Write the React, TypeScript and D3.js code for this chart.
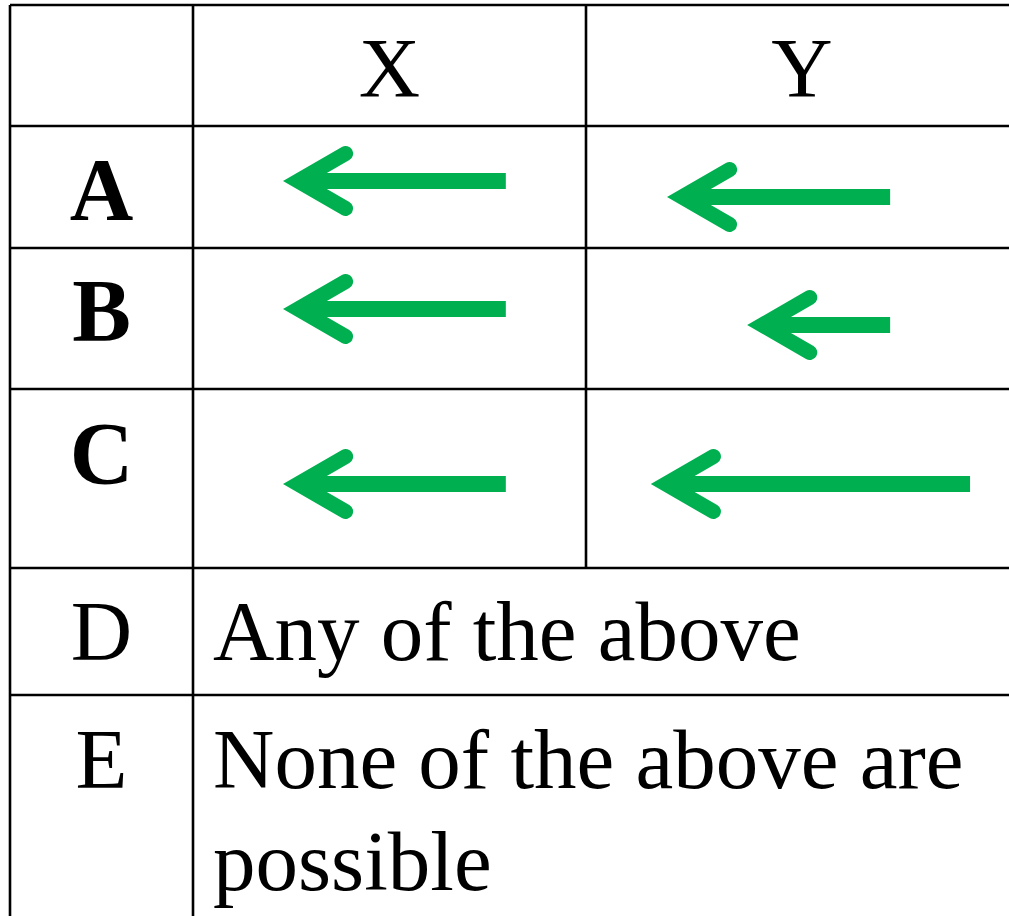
import React from "react";
import * as d3 from "d3";

// ---- data ----
const colLabels = ["X", "Y"];
const rowLabels = ["A", "B", "C", "D", "E"];
const arrowRow = ["A", "A", "B", "B", "C", "C"];
const arrowCol = ["X", "Y", "X", "Y", "X", "Y"];
// arrow tip / tail as fraction of the cell width, vertical position as fraction of cell height
const arrowTip = [0.229, 0.1875, 0.229, 0.373, 0.229, 0.15];
const arrowTail = [0.796, 0.704, 0.796, 0.704, 0.796, 0.889];
const arrowLevel = [0.451, 0.582, 0.433, 0.546, 0.531, 0.531];
const optionTexts = [
  { row: "D", lines: ["Any of the above"] },
  { row: "E", lines: ["None of the above are", "possible"] },
];

// ---- layout ----
const W = 1009;
const H = 916;
const colEdges = [10, 193, 586, 1018];
const rowEdges = [5, 126, 248, 389, 568, 695, 960];
const GREEN = "#00B050";
const FONT = "'Liberation Serif', 'Times New Roman', serif";

export default function App() {
  const rowIndex = (r: string) => rowLabels.indexOf(r) + 1;
  const colIndex = (c: string) => colLabels.indexOf(c) + 1;
  const cellX = (ci: number) =>
    d3.scaleLinear().domain([0, 1]).range([colEdges[ci], colEdges[ci + 1]]);
  const cellY = (ri: number) =>
    d3.scaleLinear().domain([0, 1]).range([rowEdges[ri], rowEdges[ri + 1]]);
  const line = d3.line<[number, number]>();

  const headLen = 55;
  const headAng = (30 * Math.PI) / 180;
  const armW = 15;
  const miter = armW / 2 / Math.sin(headAng);

  const arrows = arrowRow.map((r, i) => {
    const ci = colIndex(arrowCol[i]);
    const ri = rowIndex(r);
    const sx = cellX(ci);
    const sy = cellY(ri);
    const tip = sx(arrowTip[i]);
    const tail = sx(arrowTail[i]);
    const y = sy(arrowLevel[i]);
    const vx = tip + miter;
    const head: [number, number][] = [
      [vx + headLen * Math.cos(headAng), y - headLen * Math.sin(headAng)],
      [vx, y],
      [vx + headLen * Math.cos(headAng), y + headLen * Math.sin(headAng)],
    ];
    const shaft: [number, number][] = [
      [vx + 4, y],
      [tail, y],
    ];
    return { head, shaft, key: i };
  });

  const headerBaseline = 97;
  const letterBaselines = [219, 340, 483, 660, 788];
  const textLineGap = 102;

  return (
    <svg
      width={W}
      height={H}
      style={{ position: "absolute", left: 0, top: 0, background: "#fff" }}
    >
      <rect x={0} y={0} width={W} height={H} fill="#fff" />
      {/* grid lines */}
      {rowEdges.map((y, i) => (
        <line key={"h" + i} x1={colEdges[0]} x2={colEdges[3]} y1={y} y2={y} stroke="#000" strokeWidth={2.6} />
      ))}
      {colEdges.map((x, i) => (
        <line
          key={"v" + i}
          x1={x}
          x2={x}
          y1={rowEdges[0]}
          y2={i === 2 ? rowEdges[4] : rowEdges[6]}
          stroke="#000"
          strokeWidth={2.6}
        />
      ))}
      {/* header */}
      {colLabels.map((c, i) => (
        <text
          key={c}
          x={(colEdges[i + 1] + colEdges[i + 2]) / 2}
          y={headerBaseline}
          textAnchor="middle"
          fontFamily={FONT}
          fontSize={85}
          fill="#000"
        >
          {c}
        </text>
      ))}
      {/* row labels */}
      {rowLabels.map((r, i) => (
        <text
          key={r}
          x={(colEdges[0] + colEdges[1]) / 2}
          y={letterBaselines[i]}
          textAnchor="middle"
          fontFamily={FONT}
          fontSize={i < 3 ? 88 : 85}
          fontWeight={i < 3 ? "bold" : "normal"}
          fill="#000"
        >
          {r}
        </text>
      ))}
      {/* option texts */}
      {optionTexts.map((o) =>
        o.lines.map((ln, j) => (
          <text
            key={o.row + j}
            x={colEdges[1] + 20}
            y={letterBaselines[rowLabels.indexOf(o.row)] + j * textLineGap}
            fontFamily={FONT}
            fontSize={85}
            fill="#000"
          >
            {ln}
          </text>
        ))
      )}
      {/* arrows */}
      {arrows.map((a) => (
        <g key={a.key}>
          <path d={line(a.shaft) || ""} stroke={GREEN} strokeWidth={16} fill="none" strokeLinecap="butt" />
          <path
            d={line(a.head) || ""}
            stroke={GREEN}
            strokeWidth={armW}
            fill="none"
            strokeLinecap="round"
            strokeLinejoin="miter"
            strokeMiterlimit={10}
          />
        </g>
      ))}
    </svg>
  );
}
